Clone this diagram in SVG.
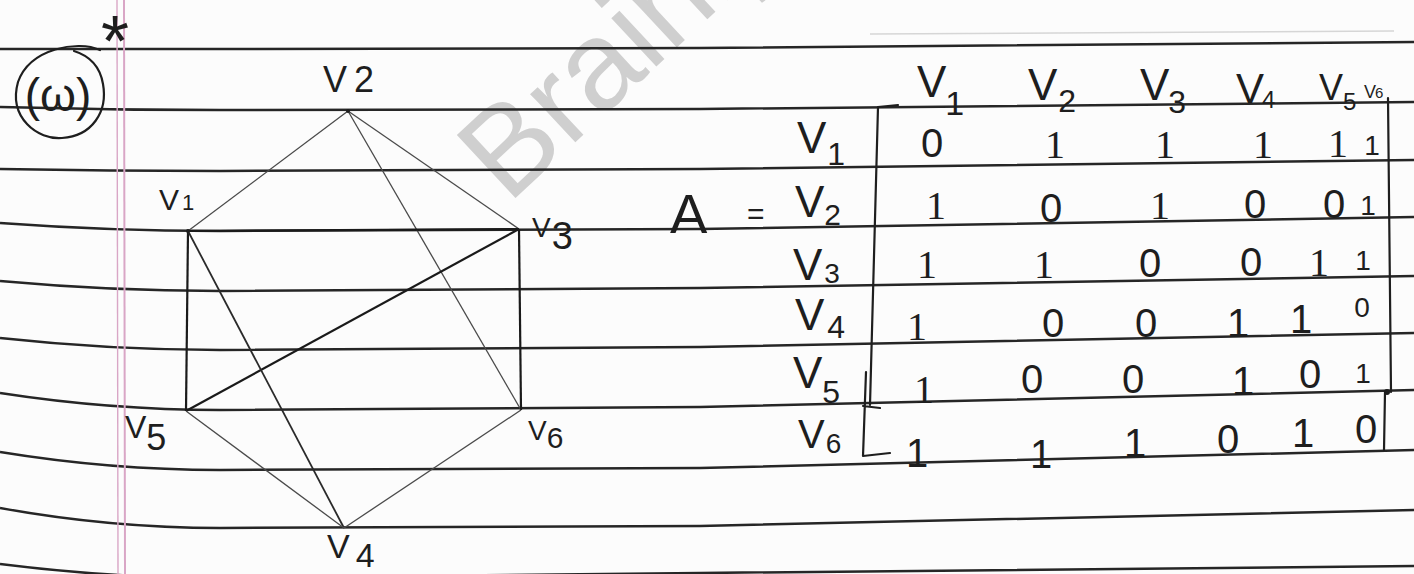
<svg xmlns="http://www.w3.org/2000/svg" width="1414" height="574" viewBox="0 0 1414 574">
<style>
.rule{stroke:#262626;stroke-width:2.5;fill:none}
.faint{stroke:#d6d6d6;stroke-width:1.5;fill:none}
.margin{stroke:#d9a6c6;fill:none}
.pen{font-family:"Liberation Sans",Arial,sans-serif;fill:#1e1e1e}
.ink{stroke:#1e1e1e;stroke-width:2.2;fill:none;stroke-linecap:round;stroke-linejoin:round}
.thin{stroke:#4a4a4a;stroke-width:1.3;fill:none}
.thick{stroke:#1a1a1a;stroke-width:2.2;fill:none}
.med{stroke:#2a2a2a;stroke-width:1.8;fill:none}
.lbl{font-size:30px}
.hdr{font-size:44px}
.row{font-size:44px}
.val{font-size:40px;text-anchor:middle}
.valb{font-size:40px;text-anchor:middle;font-family:"Liberation Serif","Times New Roman",serif}
.sm{font-size:28px;text-anchor:middle}
</style>
<rect width="1414" height="574" fill="#fcfcfc"/>
<text x="508" y="205" transform="rotate(-43 508 205)" font-family="Liberation Sans, Arial, sans-serif" font-size="125" fill="#cfcfcf">Brainly</text>
<g id="paper">
<path class="faint" d="M870 34 L1394 31"/>
<path class="rule" d="M0 49 Q110 49 220 49 L700 48 L1414 42"/>
<path class="rule" d="M0 107 Q110 110 220 110 L700 109 L1414 102"/>
<path class="rule" d="M0 169 Q110 171 220 171 L700 169 L1414 160"/>
<path class="rule" d="M0 223 Q110 231 220 231 L700 229 L1414 217"/>
<path class="rule" d="M0 281 Q110 291 220 291 L700 288 L1414 276"/>
<path class="rule" d="M0 338 Q110 350 220 350 L700 347 L1414 333"/>
<path class="rule" d="M0 393 Q110 410 220 410 L700 407 L1414 390"/>
<path class="rule" d="M0 452 Q110 470 220 470 L700 468 L1414 450"/>
<path class="rule" d="M0 508 Q110 528 220 528 L700 526 L1414 510"/>
<path class="rule" d="M0 564 Q110 578 220 578 L700 573 L1414 566"/>
<path class="margin" stroke-width="1.4" d="M117 0 L118 574"/>
<path class="margin" stroke-width="2" d="M124 0 L125 574"/>
</g>
<g id="label-omega">
<path class="ink" stroke-width="1.8" d="M100 50 C78 40 30 48 18 82 C8 118 38 140 62 138 C92 136 108 112 103 84 C100 66 90 56 74 51"/>
<text class="pen" x="58" y="111" font-size="46" text-anchor="middle">(ω)</text>
<text class="pen" x="115" y="66" font-size="72" text-anchor="middle" fill="#43385a">*</text>
</g>
<g id="edges">
<path class="thin" d="M188 231 L348 111"/>
<path class="thin" d="M348 111 L519 229"/>
<path class="thin" d="M348 111 L521 410"/>
<path class="thick" d="M188 231 L519 229"/>
<path class="thick" d="M188 231 L186 411"/>
<path class="thick" d="M519 229 L521 410"/>
<path class="thick" d="M519 229 L186 411"/>
<path class="med" d="M188 231 L344 528"/>
<path class="thin" d="M186 411 L344 528"/>
<path class="thin" d="M521 410 L344 528"/>
</g>
<g id="node-v1"><circle cx="188" cy="231" r="2" fill="#1e1e1e"/><text class="pen lbl" x="159" y="210">V<tspan font-size="22" dx="3">1</tspan></text></g>
<g id="node-v2"><circle cx="348" cy="111" r="2" fill="#1e1e1e"/><text class="pen" font-size="36" x="323" y="92">V<tspan dx="7">2</tspan></text></g>
<g id="node-v3"><text class="pen" font-size="28" x="532" y="237">V<tspan font-size="38" dy="12" dx="1">3</tspan></text></g>
<g id="node-v4"><text class="pen" font-size="34" x="327" y="558">V<tspan font-size="34" dy="9" dx="6">4</tspan></text></g>
<g id="node-v5"><text class="pen" font-size="32" x="125" y="438">V<tspan font-size="36" dy="12" dx="0">5</tspan></text></g>
<g id="node-v6"><text class="pen" font-size="28" x="528" y="440">V<tspan font-size="30" dy="8" dx="0">6</tspan></text></g>
<g id="matrix">
<text class="pen" x="670" y="233" font-size="56">A</text>
<text class="pen" x="747" y="224" font-size="30">=</text>
<text class="pen hdr" x="917" y="97">V<tspan font-size="34" dy="18" dx="-1">1</tspan></text>
<text class="pen hdr" x="1028" y="100">V<tspan font-size="32" dy="12" dx="1">2</tspan></text>
<text class="pen hdr" x="1140" y="100">V<tspan font-size="32" dy="13" dx="-1">3</tspan></text>
<text class="pen" font-size="42" x="1236" y="103">V<tspan font-size="24" dy="5" dx="-2">4</tspan></text>
<text class="pen" font-size="36" x="1319" y="100">V<tspan font-size="24" dy="10" dx="0">5</tspan></text>
<text class="pen" font-size="18" x="1364" y="98">V<tspan font-size="15" dx="-1">6</tspan></text>
<text class="pen row" x="797" y="153">V<tspan font-size="32" dy="12" dx="1">1</tspan></text>
<text class="pen row" x="795" y="217">V<tspan font-size="30" dy="8" dx="0">2</tspan></text>
<text class="pen row" x="793" y="280">V<tspan font-size="28" dy="3" dx="2">3</tspan></text>
<text class="pen row" x="795" y="330">V<tspan font-size="32" dy="8" dx="3">4</tspan></text>
<text class="pen row" x="793" y="388">V<tspan font-size="32" dy="15" dx="0">5</tspan></text>
<text class="pen" font-size="40" x="798" y="448">V<tspan font-size="28" dy="5" dx="1">6</tspan></text>
<path class="ink" d="M898 105 L878 107 L870 405"/>
<path class="ink" d="M866 372 L863 456 L890 453 M863 406 L880 408"/>
<path class="ink" stroke-width="1.8" d="M1388 98 L1391 392 M1385 392 L1384 450"/>
<circle cx="1387" cy="392" r="3" fill="#1e1e1e"/>
<text class="pen val" x="932" y="157">0</text>
<text class="pen valb" x="1055" y="158">1</text>
<text class="pen valb" x="1165" y="158">1</text>
<text class="pen valb" x="1263" y="158">1</text>
<text class="pen valb" x="1338" y="157">1</text>
<text class="pen sm" x="1372" y="155">1</text>
<text class="pen valb" x="936" y="219">1</text>
<text class="pen val" x="1051" y="222">0</text>
<text class="pen valb" x="1160" y="219">1</text>
<text class="pen val" x="1255" y="218">0</text>
<text class="pen val" x="1334" y="218">0</text>
<text class="pen sm" x="1368" y="215">1</text>
<text class="pen valb" x="927" y="278">1</text>
<text class="pen valb" x="1044" y="278">1</text>
<text class="pen val" x="1150" y="277">0</text>
<text class="pen val" x="1251" y="276">0</text>
<text class="pen valb" x="1319" y="276">1</text>
<text class="pen sm" x="1363" y="270">1</text>
<text class="pen valb" x="917" y="340">1</text>
<text class="pen val" x="1053" y="337">0</text>
<text class="pen val" x="1146" y="337">0</text>
<text class="pen val" x="1238" y="337">1</text>
<text class="pen val" x="1301" y="333">1</text>
<text class="pen sm" x="1362" y="317">0</text>
<text class="pen valb" x="924" y="403">1</text>
<text class="pen val" x="1032" y="393">0</text>
<text class="pen val" x="1133" y="393">0</text>
<text class="pen val" x="1243" y="395">1</text>
<text class="pen val" x="1310" y="388">0</text>
<text class="pen sm" x="1363" y="383">1</text>
<text class="pen val" x="917" y="467">1</text>
<text class="pen val" x="1041" y="468">1</text>
<text class="pen val" x="1135" y="457">1</text>
<text class="pen val" x="1228" y="453">0</text>
<text class="pen val" x="1303" y="447">1</text>
<text class="pen val" x="1366" y="443">0</text>
</g>
</svg>
